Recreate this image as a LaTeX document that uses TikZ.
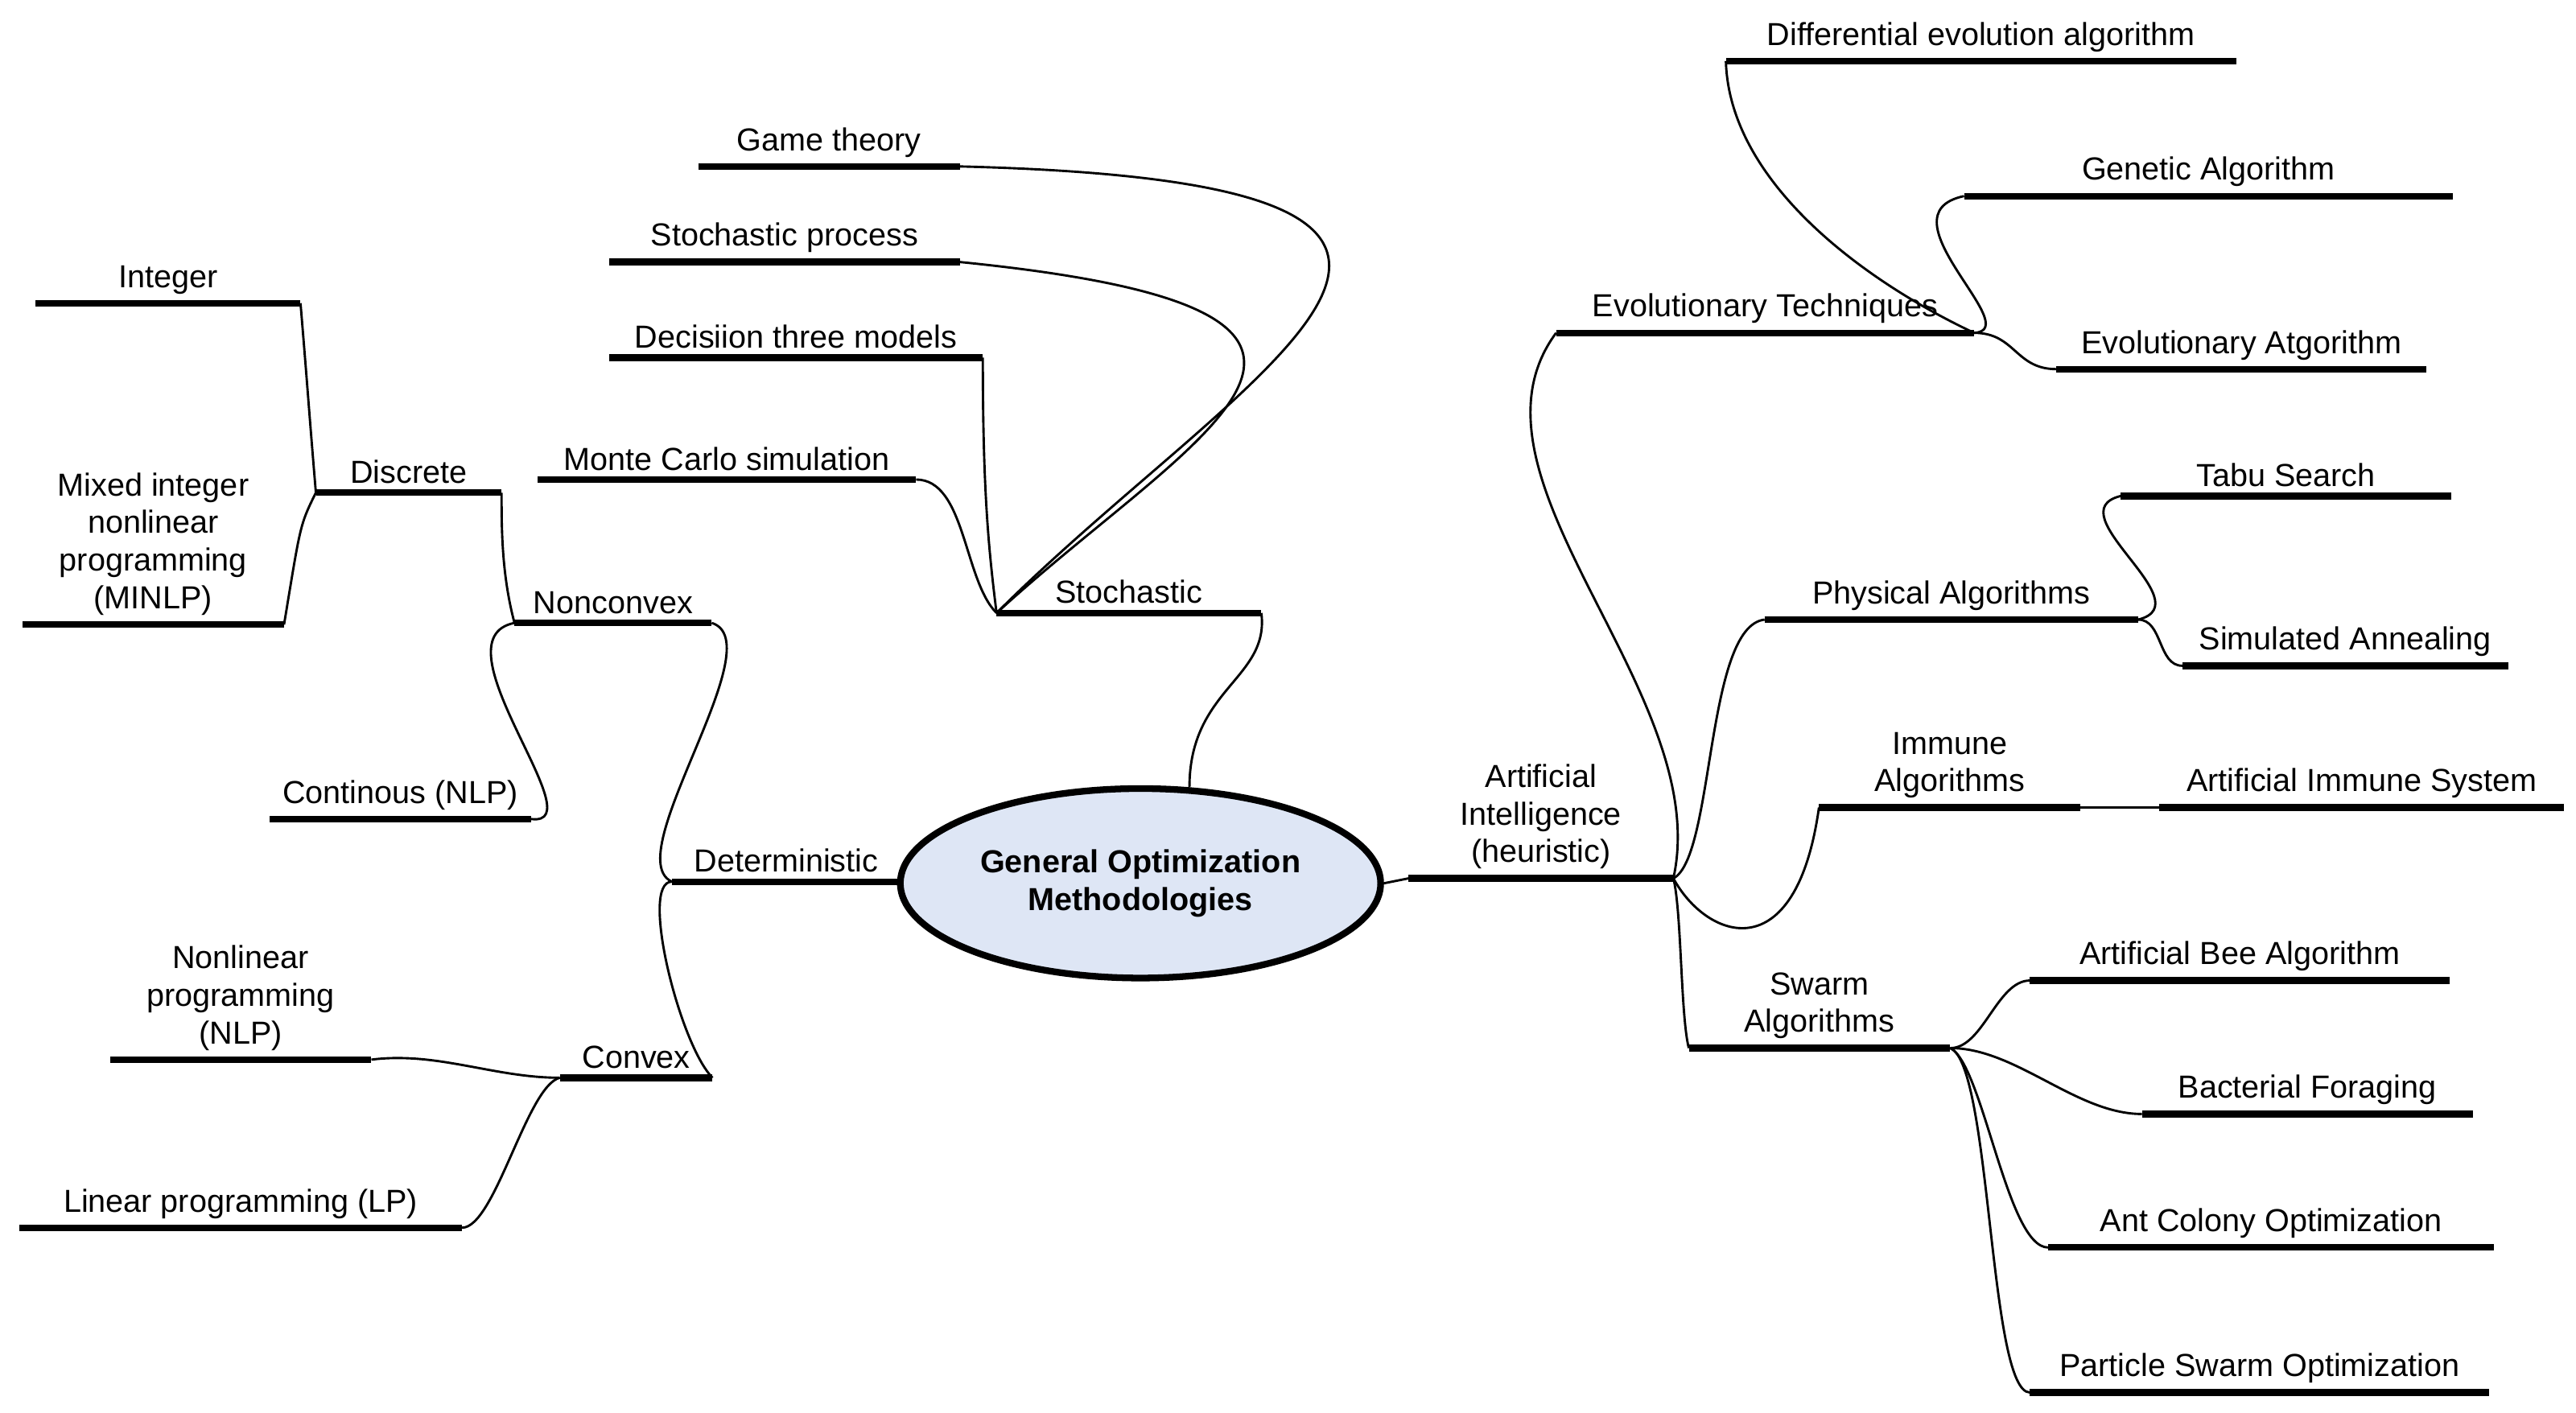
\documentclass[tikz,border=0pt]{standalone}
\usepackage{fontspec}
\setmainfont{Liberation Sans}
\usetikzlibrary{shapes.geometric}
\definecolor{hubfill}{RGB}{222,230,245}
\tikzset{
  topic/.style={anchor=south, align=center, inner sep=3pt, font=\fontsize{11}{13}\selectfont,
    append after command={(\tikzlastnode.south west) edge[line width=2.3pt] (\tikzlastnode.south east)}},
  link/.style={line width=0.8pt},
}
\begin{document}
\begin{tikzpicture}[x=0.02cm, y=-0.02cm]
  \useasboundingbox (0,0) rectangle (1563,857);

  % hub
  \node[ellipse, draw, line width=2.3pt, fill=hubfill, minimum width=5.1cm, minimum height=2.3cm,
    align=center, font=\fontsize{11}{13}\selectfont\bfseries] (hub) at (692,536)
    {General Optimization\\Methodologies};

  % main branches
  \node[topic, minimum width=3.2cm] (sto) at (685,372) {Stochastic};
  \node[topic, minimum width=2.76cm] (det) at (477,535) {Deterministic};
  \node[topic, minimum width=3.2cm] (ai) at (935,533) {Artificial\\Intelligence\\(heuristic)};

  % stochastic
  \node[topic, minimum width=3.16cm] (game) at (503,101) {Game theory};
  \node[topic, minimum width=4.24cm] (proc) at (476,159) {Stochastic process};
  \node[topic, minimum width=4.52cm] (tree) at (483,217) {Decisiion three models};
  \node[topic, minimum width=4.58cm] (mc) at (441,291) {Monte Carlo simulation};

  % deterministic
  \node[topic, minimum width=2.38cm] (ncvx) at (372,378) {Nonconvex};
  \node[topic, minimum width=1.84cm] (cvx) at (386,654) {Convex};
  \node[topic, minimum width=2.24cm] (disc) at (248,299) {Discrete};
  \node[topic, minimum width=3.16cm] (cont) at (243,497) {Continous (NLP)};
  \node[topic, minimum width=3.2cm] (int) at (102,184) {Integer};
  \node[topic, minimum width=3.16cm] (minlp) at (93,379) {Mixed integer\\nonlinear\\programming\\(MINLP)};
  \node[topic, minimum width=3.16cm] (nlp) at (146,643) {Nonlinear\\programming\\(NLP)};
  \node[topic, minimum width=5.36cm] (lp) at (146,745) {Linear programming (LP)};

  % artificial intelligence
  \node[topic, minimum width=5.06cm] (evo) at (1071,202) {Evolutionary Techniques};
  \node[topic, minimum width=4.52cm] (phys) at (1184,376) {Physical Algorithms};
  \node[topic, minimum width=3.16cm] (imm) at (1183,490) {Immune\\Algorithms};
  \node[topic, minimum width=3.16cm] (swarm) at (1104,636) {Swarm\\Algorithms};
  \node[topic, minimum width=6.18cm] (de) at (1202,37) {Differential evolution algorithm};
  \node[topic, minimum width=5.92cm] (ga) at (1340,119) {Genetic Algorithm};
  \node[topic, minimum width=4.48cm] (ea) at (1360,224) {Evolutionary Atgorithm};
  \node[topic, minimum width=4cm] (tabu) at (1387,301) {Tabu Search};
  \node[topic, minimum width=3.94cm] (sa) at (1423,404) {Simulated Annealing};
  \node[topic, minimum width=4.9cm] (ais) at (1433,490) {Artificial Immune System};
  \node[topic, minimum width=5.08cm] (bee) at (1359,595) {Artificial Bee Algorithm};
  \node[topic, minimum width=4cm] (bact) at (1400,676) {Bacterial Foraging};
  \node[topic, minimum width=5.4cm] (ant) at (1378,757) {Ant Colony Optimization};
  \node[topic, minimum width=5.56cm] (pso) at (1371,845) {Particle Swarm Optimization};

  % connectors
  \draw[link] (hub.63) .. controls +(0,-60) and +(5,40) .. (sto.south east);
  \draw[link] (hub.west) -- (det.south east);
  \draw[link] (hub.east) -- (ai.south west);

  \draw[link] (sto.south west) .. controls +(150,-150) and +(400,10) .. (game.south east);
  \draw[link] (sto.south west) .. controls +(120,-110) and +(300,30) .. (proc.south east);
  \draw[link] (sto.south west) .. controls +(-5,-40) and +(0,80) .. (tree.south east);
  \draw[link] (sto.south west) .. controls +(-20,-20) and +(30,0) .. (mc.south east);

  \draw[link] (det.south west) .. controls +(-33,-15) and +(38,12) .. (ncvx.south east);
  \draw[link] (det.south west) .. controls +(-20,0) and +(-20,-20) .. (cvx.south east);
  \draw[link] (ncvx.south west) .. controls +(-8,-30) and +(0,20) .. (disc.south east);
  \draw[link] (ncvx.south west) .. controls +(-50,10) and +(40,5) .. (cont.south east);
  \draw[link] (disc.south west) .. controls +(-5,-60) and +(5,60) .. (int.south east);
  \draw[link] (disc.south west) .. controls +(-10,20) and +(10,-60) .. (minlp.south east);
  \draw[link] (cvx.south west) .. controls +(-40,0) and +(40,-5) .. (nlp.south east);
  \draw[link] (cvx.south west) .. controls +(-20,5) and +(20,0) .. (lp.south east);

  \draw[link] (ai.south east) .. controls +(25,-113) and +(-65,88) .. (evo.south west);
  \draw[link] (ai.south east) .. controls +(25,-13) and +(-36,4) .. (phys.south west);
  \draw[link] (ai.south east) .. controls +(20,37) and +(-14,100) .. (imm.south west);
  \draw[link] (ai.south east) .. controls +(5,20) and +(-5,-20) .. (swarm.south west);

  \draw[link] (evo.south east) .. controls +(-68,-32) and +(2,73) .. (de.south west);
  \draw[link] (evo.south east) .. controls +(32,-2) and +(-52,11) .. (ga.south west);
  \draw[link] (evo.south east) .. controls +(25,0) and +(-25,0) .. (ea.south west);
  \draw[link] (phys.south east) .. controls +(40,-10) and +(-40,10) .. (tabu.south west);
  \draw[link] (phys.south east) .. controls +(15,0) and +(-15,0) .. (sa.south west);
  \draw[link] (imm.south east) -- (ais.south west);
  \draw[link] (swarm.south east) .. controls +(20,0) and +(-20,0) .. (bee.south west);
  \draw[link] (swarm.south east) .. controls +(40,0) and +(-40,0) .. (bact.south west);
  \draw[link] (swarm.south east) .. controls +(20,10) and +(-25,0) .. (ant.south west);
  \draw[link] (swarm.south east) .. controls +(25,10) and +(-25,0) .. (pso.south west);
\end{tikzpicture}
\end{document}
